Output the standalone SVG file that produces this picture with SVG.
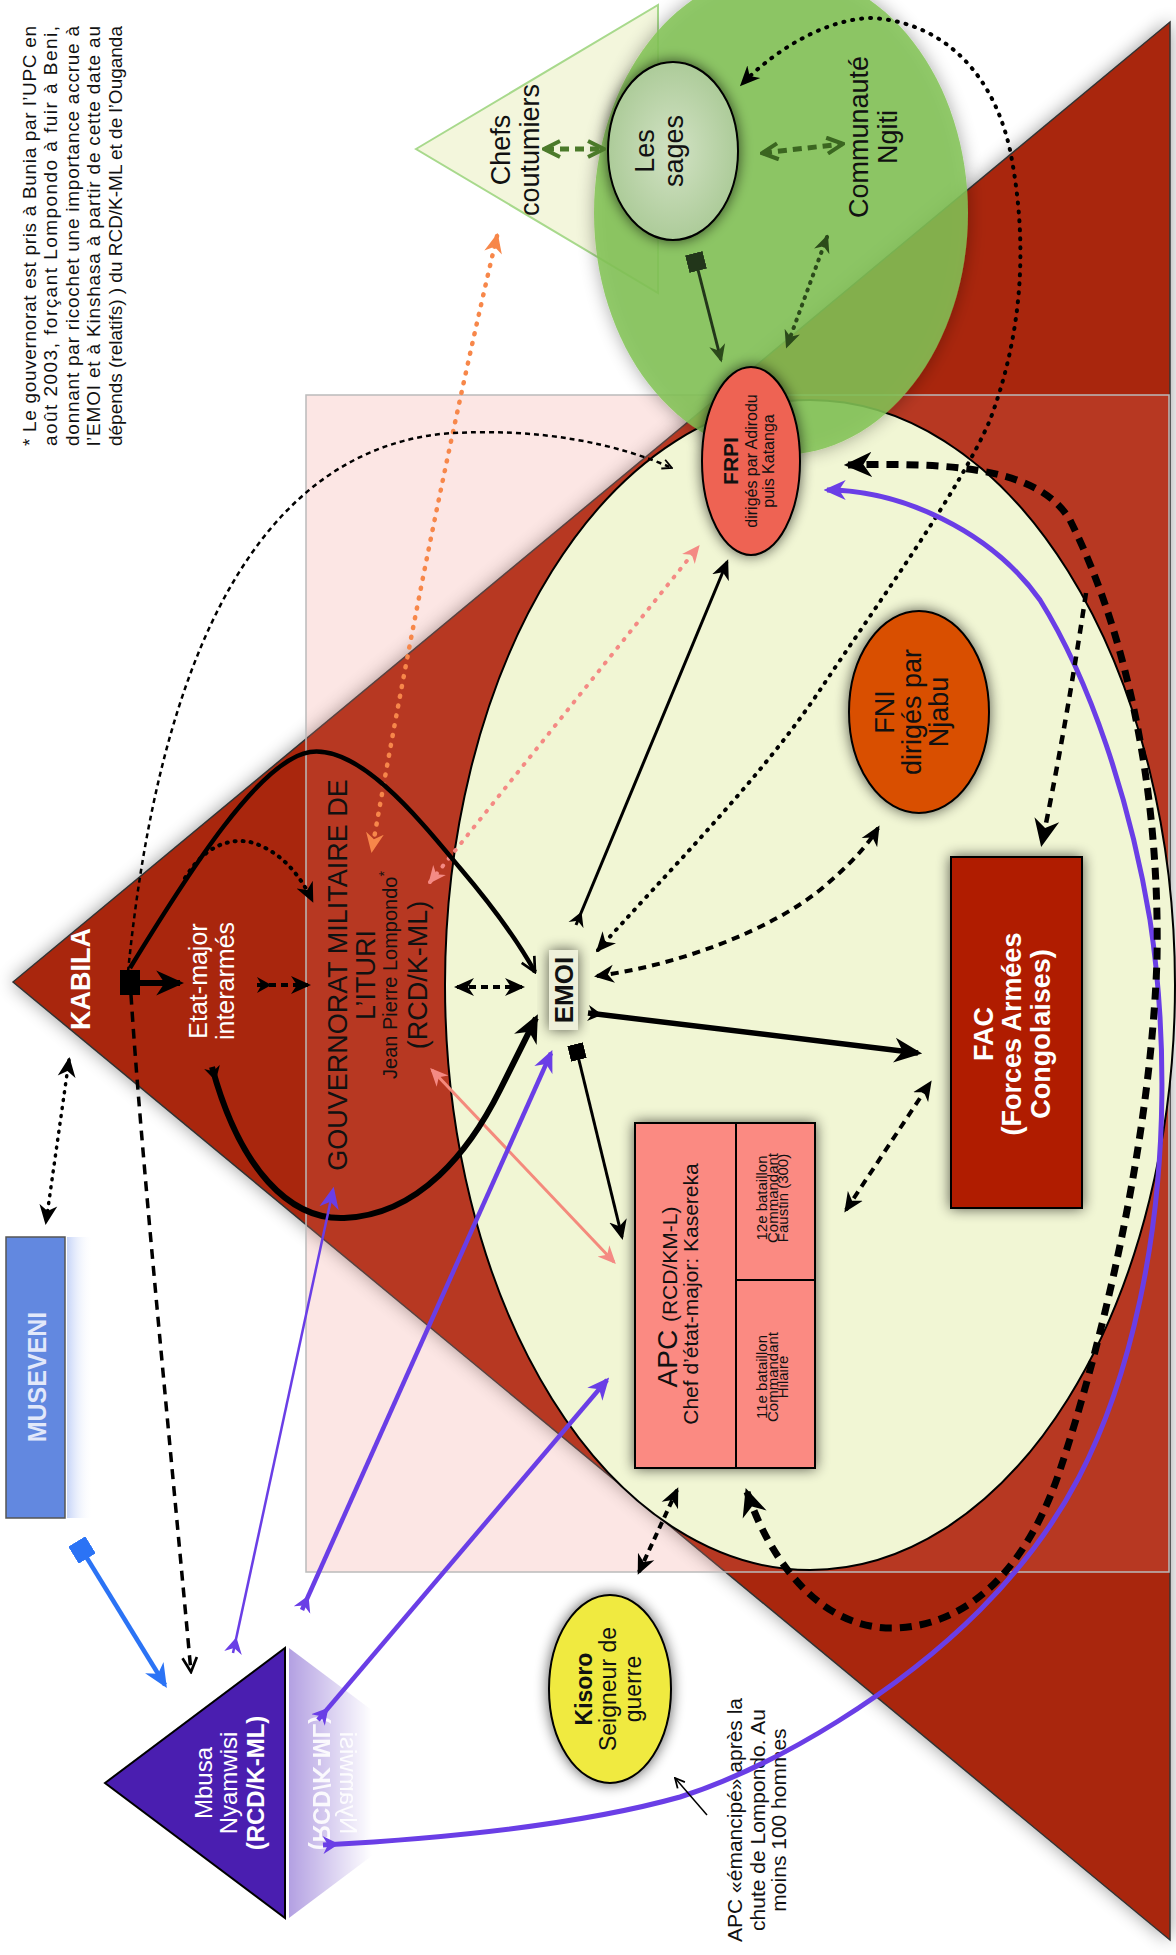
<svg xmlns="http://www.w3.org/2000/svg" width="1176" height="1955" viewBox="0 0 1176 1955">
<style>
text{font-family:"Liberation Sans",Arial,sans-serif;fill:#111}
.w{fill:#fff}
.b{font-weight:bold}
.l27{font-size:27px}
.nd{stroke:#000;stroke-width:2}
.cn{fill:none}
</style>
<defs>
<filter id="sh" x="-40%" y="-40%" width="180%" height="180%"><feGaussianBlur in="SourceAlpha" stdDeviation="7"/><feComponentTransfer><feFuncA type="linear" slope="0.65"/></feComponentTransfer><feMerge><feMergeNode/><feMergeNode in="SourceGraphic"/></feMerge></filter>
<filter id="shs" x="-20%" y="-20%" width="140%" height="140%"><feGaussianBlur in="SourceAlpha" stdDeviation="9"/><feComponentTransfer><feFuncA type="linear" slope="0.4"/></feComponentTransfer><feMerge><feMergeNode/><feMergeNode in="SourceGraphic"/></feMerge></filter>
<radialGradient id="gSages" cx="50%" cy="50%" r="55%"><stop offset="0" stop-color="#d2e2c4"/><stop offset="1" stop-color="#a9c995"/></radialGradient>
<linearGradient id="gGhost" x1="289" y1="0" x2="372" y2="0" gradientUnits="userSpaceOnUse"><stop offset="0" stop-color="#fff"/><stop offset="1" stop-color="#000"/></linearGradient>
<mask id="mGhost" maskUnits="userSpaceOnUse" x="280" y="1600" width="200" height="340"><rect x="280" y="1600" width="200" height="340" fill="url(#gGhost)"/></mask>
<linearGradient id="gMus" x1="0" y1="0" x2="1" y2="0"><stop offset="0" stop-color="#c6d4f8"/><stop offset="1" stop-color="#fff" stop-opacity="0"/></linearGradient>
<marker id="aK" viewBox="0 0 20 20" refX="17" refY="10" markerWidth="20" markerHeight="20" markerUnits="userSpaceOnUse" orient="auto-start-reverse"><path d="M0,1 L20,10 L0,19 L6,10z" fill="#000"/></marker>
<marker id="aKL" viewBox="0 0 20 20" refX="17" refY="10" markerWidth="28" markerHeight="28" markerUnits="userSpaceOnUse" orient="auto-start-reverse"><path d="M0,1 L20,10 L0,19 L6,10z" fill="#000"/></marker>
<marker id="vK" viewBox="0 0 20 20" refX="18" refY="10" markerWidth="18" markerHeight="18" markerUnits="userSpaceOnUse" orient="auto-start-reverse"><path d="M2,2 L18,10 L2,18" fill="none" stroke="#000" stroke-width="3"/></marker>
<marker id="vKs" viewBox="0 0 20 20" refX="18" refY="10" markerWidth="12" markerHeight="12" markerUnits="userSpaceOnUse" orient="auto-start-reverse"><path d="M2,2 L18,10 L2,18" fill="none" stroke="#000" stroke-width="3"/></marker>
<marker id="tK" viewBox="0 0 20 20" refX="0" refY="10" markerWidth="18" markerHeight="18" markerUnits="userSpaceOnUse" orient="auto"><path d="M0,1 L16,10 L0,19 L5,10z" fill="#000"/></marker>
<marker id="sK" viewBox="0 0 10 10" refX="5" refY="5" markerWidth="16" markerHeight="16" markerUnits="userSpaceOnUse" orient="auto"><rect width="10" height="10" fill="#000"/></marker>
<marker id="aG" viewBox="0 0 20 20" refX="17" refY="10" markerWidth="20" markerHeight="20" markerUnits="userSpaceOnUse" orient="auto-start-reverse"><path d="M2,2 L18,10 L2,18" fill="none" stroke="#4b7a2a" stroke-width="4"/></marker>
<marker id="aG3" viewBox="0 0 20 20" refX="17" refY="10" markerWidth="20" markerHeight="20" markerUnits="userSpaceOnUse" orient="auto-start-reverse"><path d="M2,2 L18,10 L2,18" fill="none" stroke="#3b6620" stroke-width="4"/></marker>
<marker id="aG2" viewBox="0 0 20 20" refX="17" refY="10" markerWidth="18" markerHeight="18" markerUnits="userSpaceOnUse" orient="auto-start-reverse"><path d="M0,1 L20,10 L0,19 L6,10z" fill="#2b4a1a"/></marker>
<marker id="sG" viewBox="0 0 10 10" refX="5" refY="5" markerWidth="18" markerHeight="18" markerUnits="userSpaceOnUse" orient="auto"><rect width="10" height="10" fill="#22361a"/></marker>
<marker id="aO" viewBox="0 0 20 20" refX="17" refY="10" markerWidth="20" markerHeight="20" markerUnits="userSpaceOnUse" orient="auto-start-reverse"><path d="M0,1 L20,10 L0,19 L6,10z" fill="#f7874a"/></marker>
<marker id="aP" viewBox="0 0 20 20" refX="17" refY="10" markerWidth="18" markerHeight="18" markerUnits="userSpaceOnUse" orient="auto-start-reverse"><path d="M0,1 L20,10 L0,19 L6,10z" fill="#f48a84"/></marker>
<marker id="aU" viewBox="0 0 20 20" refX="17" refY="10" markerWidth="22" markerHeight="22" markerUnits="userSpaceOnUse" orient="auto-start-reverse"><path d="M0,1 L20,10 L0,19 L6,10z" fill="#6a3ee6"/></marker>
<marker id="tU" viewBox="0 0 20 20" refX="0" refY="10" markerWidth="20" markerHeight="20" markerUnits="userSpaceOnUse" orient="auto"><path d="M0,1 L16,10 L0,19 L5,10z" fill="#6a3ee6"/></marker>
<marker id="aB" viewBox="0 0 20 20" refX="17" refY="10" markerWidth="24" markerHeight="24" markerUnits="userSpaceOnUse" orient="auto-start-reverse"><path d="M0,1 L20,10 L0,19 L6,10z" fill="#2b73f5"/></marker>
<marker id="sB" viewBox="0 0 10 10" refX="5" refY="5" markerWidth="20" markerHeight="20" markerUnits="userSpaceOnUse" orient="auto"><rect width="10" height="10" fill="#2b73f5"/></marker>
</defs>

<rect x="0" y="0" width="1176" height="1955" fill="#fff"/>

<!-- background zones -->
<g id="zone-kabila">
<polygon points="13,982 1170,22 1170,1940" fill="#a9280e" stroke="#333" stroke-width="1.5" filter="url(#shs)"/>
</g>
<g id="zone-ituri">
<rect x="306" y="395" width="863" height="1177" fill="#f08278" fill-opacity="0.2" stroke="#bbb" stroke-width="1.5"/>
</g>
<g id="chefs-coutumiers">
<polygon points="416,149 658,5 658,293" fill="#f3f6dc" stroke="#a8d98c" stroke-width="2"/>
<text class="l27" transform="translate(0,150) rotate(-90)" text-anchor="middle"><tspan x="0" y="510">Chefs</tspan><tspan x="0" y="539">coutumiers</tspan></text>
</g>
<g id="ellipse-ituri">
<ellipse cx="810" cy="985" rx="365" ry="585" fill="#f1f6d4" stroke="#000" stroke-width="2"/>
</g>
<g id="communaute-ngiti">
<ellipse cx="781" cy="213" rx="187" ry="242" fill="#82c355" fill-opacity="0.85" filter="url(#shs)"/>
<text class="l27" transform="translate(0,137) rotate(-90)" text-anchor="middle"><tspan x="0" y="868">Communauté</tspan><tspan x="0" y="897">Ngiti</tspan></text>
</g>

<!-- footnote -->
<g id="footnote">
<text font-size="19" transform="translate(0,446) rotate(-90)">
<tspan x="0" y="35.5" textLength="420" lengthAdjust="spacing">* Le gouvernorat est pris à Bunia par l’UPC en</tspan>
<tspan x="0" y="57" textLength="420" lengthAdjust="spacing">août 2003, forçant Lompondo à fuir à Beni,</tspan>
<tspan x="0" y="78.5" textLength="420" lengthAdjust="spacing">donnant par ricochet une importance accrue à</tspan>
<tspan x="0" y="100" textLength="420" lengthAdjust="spacing">l’EMOI et à Kinshasa à partir de cette date au</tspan>
<tspan x="0" y="121.5" textLength="420" lengthAdjust="spacing">dépends (relatifs) ) du RCD/K-ML et de l’Ouganda</tspan>
</text>
</g>

<!-- nodes -->
<g id="les-sages">
<ellipse cx="673" cy="151" rx="65" ry="89" fill="url(#gSages)" class="nd" filter="url(#sh)"/>
<text class="l27" transform="translate(0,151) rotate(-90)" text-anchor="middle"><tspan x="0" y="654">Les</tspan><tspan x="0" y="683">sages</tspan></text>
</g>
<g id="kabila">
<text class="w b" font-size="27" transform="translate(0,979) rotate(-90)" text-anchor="middle" x="0" y="89.5">KABILA</text>
</g>
<g id="etat-major">
<text class="w" font-size="25" transform="translate(0,981) rotate(-90)" text-anchor="middle"><tspan x="0" y="207">Etat-major</tspan><tspan x="0" y="234">interarmés</tspan></text>
</g>
<g id="gouvernorat">
<text transform="translate(0,975) rotate(-90)" text-anchor="middle"><tspan x="0" y="346.5" font-size="27">GOUVERNORAT MILITAIRE DE</tspan><tspan x="0" y="374.5" font-size="27">L’ITURI</tspan><tspan x="0" y="397" font-size="20">Jean Pierre Lompondo<tspan font-size="14" dy="-8">*</tspan></tspan><tspan x="0" y="426.5" font-size="27">(RCD/K-ML)</tspan></text>
</g>
<g id="museveni">
<rect x="67" y="1237" width="26" height="281" fill="url(#gMus)"/>
<rect x="6" y="1237" width="59" height="281" fill="#6288e0" stroke="#555" stroke-width="1.5"/>
<text class="b" font-size="25" style="fill:#e2e8fa" transform="translate(0,1377) rotate(-90)" text-anchor="middle" x="0" y="46">MUSEVENI</text>
</g>
<g id="frpi">
<ellipse cx="751" cy="461" rx="49" ry="94" fill="#ee6352" class="nd" filter="url(#sh)"/>
<text transform="translate(0,461) rotate(-90)" text-anchor="middle"><tspan x="0" y="738" font-size="21" font-weight="bold">FRPI</tspan><tspan x="0" y="757" font-size="16">dirigés par Adirodu</tspan><tspan x="0" y="774" font-size="16">puis Katanga</tspan></text>
</g>
<g id="fni">
<ellipse cx="919" cy="712" rx="70" ry="101" fill="#d94f00" class="nd" filter="url(#sh)"/>
<text class="l27" transform="translate(0,712) rotate(-90)" text-anchor="middle"><tspan x="0" y="893.5">FNI</tspan><tspan x="0" y="920.5">dirigés par</tspan><tspan x="0" y="947.5">Njabu</tspan></text>
</g>
<g id="fac">
<rect x="951" y="857" width="131" height="351" fill="#b01a00" class="nd" filter="url(#sh)"/>
<text class="w b" font-size="27" transform="translate(0,1034) rotate(-90)" text-anchor="middle"><tspan x="0" y="992.5">FAC</tspan><tspan x="0" y="1020.5">(Forces Armées</tspan><tspan x="0" y="1049.5">Congolaises)</tspan></text>
</g>
<g id="emoi">
<rect x="549" y="950" width="29" height="80" fill="#eef0da" filter="url(#sh)"/>
<text class="b" font-size="26" transform="translate(0,990) rotate(-90)" text-anchor="middle" x="0" y="573">EMOI</text>
</g>
<g id="apc">
<g filter="url(#sh)">
<rect x="635" y="1123" width="180" height="345" fill="#fb8a82" class="nd"/>
</g>
<line x1="736" y1="1123" x2="736" y2="1468" stroke="#000" stroke-width="2"/>
<line x1="736" y1="1280" x2="815" y2="1280" stroke="#000" stroke-width="2"/>
<text transform="translate(0,1297) rotate(-90)" text-anchor="middle"><tspan x="0" y="677" font-size="28">APC <tspan font-size="21">(RCD/KM-L)</tspan></tspan></text>
<text font-size="21" transform="translate(0,1294) rotate(-90)" text-anchor="middle" x="0" y="697.5">Chef d’état-major: Kasereka</text>
<text font-size="15" transform="translate(0,1198) rotate(-90)" text-anchor="middle"><tspan x="0" y="767">12e bataillon</tspan><tspan x="0" y="777.5">Commandant</tspan><tspan x="0" y="788">Faustin (300)</tspan></text>
<text font-size="15" transform="translate(0,1377) rotate(-90)" text-anchor="middle"><tspan x="0" y="767">11e bataillon</tspan><tspan x="0" y="777.5">Commandant</tspan><tspan x="0" y="788">Hilaire</tspan></text>
</g>
<g id="kisoro">
<ellipse cx="610" cy="1689" rx="61" ry="94" fill="#f0ea40" class="nd" filter="url(#sh)"/>
<text font-size="23" transform="translate(0,1689) rotate(-90)" text-anchor="middle"><tspan x="0" y="592" font-weight="bold">Kisoro</tspan><tspan x="0" y="616">Seigneur de</tspan><tspan x="0" y="641">guerre</tspan></text>
</g>
<g id="mbusa">
<g mask="url(#mGhost)">
<polygon points="289,1648 289,1918 469,1783" fill="#b3a0e2"/>
<text class="w" font-size="24" transform="translate(576,0) scale(-1,1) translate(0,1783) rotate(-90)" text-anchor="middle" opacity="0.9"><tspan x="0" y="236.5">Nyamwisi</tspan><tspan x="0" y="263.5" font-weight="bold">(RCD/K-ML)</tspan></text>
</g>
<polygon points="105,1783 285,1648 285,1918" fill="#4a1eb0" stroke="#000" stroke-width="2"/>
<text class="w" font-size="24" transform="translate(0,1783) rotate(-90)" text-anchor="middle"><tspan x="0" y="211.5">Mbusa</tspan><tspan x="0" y="236.5">Nyamwisi</tspan><tspan x="0" y="263.5" font-weight="bold">(RCD/K-ML)</tspan></text>
</g>
<g id="annotation">
<text font-size="21" transform="translate(0,1820) rotate(-90)" text-anchor="middle"><tspan x="0" y="741.5">APC «émancipé» après la</tspan><tspan x="0" y="764.5">chute de Lompondo. Au</tspan><tspan x="0" y="785.5">moins 100 hommes</tspan></text>
</g>

<!-- connectors -->
<g id="connectors" class="cn">
<path d="M545,149 L603,149" stroke="#4b7a2a" stroke-width="5" stroke-dasharray="9,6" marker-start="url(#aG)" marker-end="url(#aG)"/>
<path d="M763,153 L842,144" stroke="#3b6620" stroke-width="5" stroke-dasharray="9,6" marker-start="url(#aG3)" marker-end="url(#aG3)"/>
<path d="M696,262 L721,360" stroke="#22361a" stroke-width="3" marker-start="url(#sG)" marker-end="url(#aG2)"/>
<path d="M827,237 L787,346" stroke="#2b4a1a" stroke-width="4" stroke-dasharray="1,7" stroke-linecap="round" marker-start="url(#aG2)" marker-end="url(#aG2)"/>
<path d="M497,236 Q430,520 372,850" stroke="#f7874a" stroke-width="4.5" stroke-dasharray="1,9" stroke-linecap="round" marker-start="url(#aO)" marker-end="url(#aO)"/>
<path d="M430,882 L698,547" stroke="#f48a84" stroke-width="4" stroke-dasharray="1,9" stroke-linecap="round" marker-start="url(#aP)" marker-end="url(#aP)"/>
<path d="M432,1070 L614,1262" stroke="#f48a7c" stroke-width="3" marker-start="url(#aP)" marker-end="url(#aP)"/>
<path d="M128,972 C160,650 260,455 440,434 C540,426 620,445 672,468" stroke="#000" stroke-width="2.5" stroke-dasharray="5,4" marker-end="url(#vKs)"/>
<path d="M130,968 C190,870 260,760 310,752 C360,745 420,820 460,868 C500,915 520,945 535,972" stroke="#000" stroke-width="4.5" marker-end="url(#vK)"/>
<path d="M212,1067 C240,1170 290,1220 344,1218 C420,1215 470,1150 500,1090 C515,1060 525,1040 536,1018" stroke="#000" stroke-width="6" marker-start="url(#tK)" marker-end="url(#aKL)"/>
<path d="M131,995 C141,1150 166,1400 191,1672" stroke="#000" stroke-width="3.5" stroke-dasharray="10,7" marker-end="url(#vK)"/>
<rect x="120" y="970" width="20" height="25" fill="#000"/>
<path d="M140,983 L180,983" stroke="#000" stroke-width="6" marker-end="url(#aKL)"/>
<path d="M257,985 L308,985" stroke="#000" stroke-width="4" stroke-dasharray="7,5" marker-start="url(#tK)" marker-end="url(#aK)"/>
<path d="M185,878 C205,845 230,838 250,842 C280,850 300,875 312,900" stroke="#000" stroke-width="4" stroke-dasharray="1,7" stroke-linecap="round" marker-end="url(#aK)"/>
<path d="M69,1060 L46,1222" stroke="#000" stroke-width="3.5" stroke-dasharray="1,7" stroke-linecap="round" marker-start="url(#aK)" marker-end="url(#aK)"/>
<path d="M82,1550 L165,1685" stroke="#2b73f5" stroke-width="4.5" marker-start="url(#sB)" marker-end="url(#aB)"/>
<path d="M457,987 L522,987" stroke="#000" stroke-width="4" stroke-dasharray="7,5" marker-start="url(#aK)" marker-end="url(#aK)"/>
<path d="M576,925 L727,562" stroke="#000" stroke-width="3" marker-start="url(#tK)" marker-end="url(#aK)"/>
<path d="M597,976 C680,965 770,930 820,890 C850,865 868,845 878,828" stroke="#000" stroke-width="4" stroke-dasharray="8,6" marker-start="url(#aK)" marker-end="url(#aK)"/>
<path d="M598,950 C660,880 760,780 820,690 C880,600 960,490 990,420 C1020,340 1030,250 1010,150 C990,60 930,20 870,18 C820,20 770,55 742,84" stroke="#000" stroke-width="4" stroke-dasharray="1,8" stroke-linecap="round" marker-start="url(#aK)" marker-end="url(#aK)"/>
<path d="M588,1013 L918,1053" stroke="#000" stroke-width="5.5" marker-start="url(#tK)" marker-end="url(#aKL)"/>
<path d="M577,1052 L622,1237" stroke="#000" stroke-width="3" marker-start="url(#sK)" marker-end="url(#aK)"/>
<path d="M846,1210 L930,1083" stroke="#000" stroke-width="4" stroke-dasharray="8,6" marker-start="url(#aK)" marker-end="url(#aK)"/>
<path d="M233,1653 L333,1190" stroke="#6a3ee6" stroke-width="2.5" marker-start="url(#tU)" marker-end="url(#aU)"/>
<path d="M302,1610 L551,1053" stroke="#6a3ee6" stroke-width="4.5" marker-start="url(#tU)" marker-end="url(#aU)"/>
<path d="M318,1720 L607,1380" stroke="#6a3ee6" stroke-width="4.5" marker-start="url(#tU)" marker-end="url(#aU)"/>
<path d="M323,1845 C450,1838 580,1825 680,1797 C780,1765 900,1690 980,1610 C1060,1530 1110,1440 1140,1300 C1170,1160 1165,1020 1150,920 C1130,800 1090,680 1040,600 C990,530 900,490 827,490" stroke="#6a3ee6" stroke-width="5" marker-start="url(#tU)" marker-end="url(#aU)"/>
<path d="M639,1572 L677,1490" stroke="#000" stroke-width="4" stroke-dasharray="7,5" marker-start="url(#aK)" marker-end="url(#aK)"/>
<path d="M747,1492 C770,1560 820,1630 895,1628 C975,1625 1030,1560 1060,1470 C1100,1350 1150,1150 1157,960 C1160,800 1130,640 1070,520 C1040,470 960,462 848,465" stroke="#000" stroke-width="7" stroke-dasharray="12,8" marker-start="url(#aKL)" marker-end="url(#aKL)"/>
<path d="M1086,593 C1070,700 1055,780 1042,843" stroke="#000" stroke-width="4.5" stroke-dasharray="9,7" marker-end="url(#aKL)"/>
<path d="M707,1815 L675,1778" stroke="#000" stroke-width="1.5" marker-end="url(#vKs)"/>
</g>
</svg>
